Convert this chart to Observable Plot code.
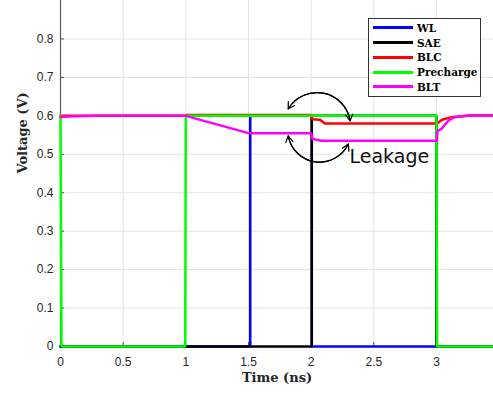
<!DOCTYPE html>
<html>
<head>
<meta charset="utf-8">
<script src="https://cdn.jsdelivr.net/npm/d3@7"></script>
<script src="https://cdn.jsdelivr.net/npm/@observablehq/plot@0.6"></script>
<style>
  body { margin: 0; background: white; }
  #wrap { position: relative; width: 493px; height: 394px; overflow: hidden; }
  #legend { position: absolute; left: 368px; top: 18px; width: 111px; height: 77px; border: 1px solid #333; background: white; }
  .lg-row { position: absolute; left: 0; height: 14px; width: 111px; }
  .lg-line { position: absolute; left: 4px; top: 5.5px; width: 40px; height: 3px; }
  .lg-text { position: absolute; left: 48px; top: 0; font-family: "DejaVu Serif", serif; font-weight: bold; font-size: 10.5px; line-height: 14px; color: #000; white-space: nowrap; }
</style>
</head>
<body>
<div id="wrap"><div id="chart"></div><div id="legend"></div></div>
<script>
// ---- data ----
const seriesNames = ["WL", "SAE", "BLC", "Precharge", "BLT"];
const seriesColors = ["#0000ff", "#000000", "#ff0000", "#00ff00", "#ff00ff"];

const tWL = [0, 1.514, 1.514, 2.005, 2.005, 3.455];
const vWL = [0, 0, 0.6, 0.6, 0, 0];

const tSAE = [0, 2.005, 2.005, 3.0, 3.0, 3.455];
const vSAE = [0, 0, 0.6, 0.6, 0, 0];

const tBLC = [0, 1.0, 1.001, 2.0, 2.01, 2.07, 2.11, 3.005, 3.045, 3.09, 3.14, 3.27, 3.455];
const vBLC = [0.6, 0.6, 0.602, 0.602, 0.591, 0.590, 0.580, 0.580, 0.590, 0.594, 0.597, 0.601, 0.601];

const tPre = [0, 0.008, 0.995, 1.0, 3.0, 3.005, 3.455];
const vPre = [0.6, 0, 0, 0.6, 0.6, 0, 0];

const tBLT = [0, 0.1, 0.3, 1.0, 1.5, 2.0, 2.01, 2.08, 3.004, 3.008, 3.04, 3.07, 3.1, 3.14, 3.2, 3.27, 3.455];
const vBLT = [0.597, 0.599, 0.6, 0.6, 0.555, 0.555, 0.540, 0.535, 0.535, 0.561, 0.566, 0.578, 0.589, 0.596, 0.599, 0.601, 0.601];

const xTicks = [0, 0.5, 1, 1.5, 2, 2.5, 3];
const yTicks = [0, 0.1, 0.2, 0.3, 0.4, 0.5, 0.6, 0.7, 0.8];

// annotation arrows (double-headed, curved)
const arrowT1 = [1.817, 1.817];
const arrowV1 = [0.618, 0.548];
const arrowT2 = [2.311, 2.297];
const arrowV2 = [0.587, 0.5265];
const arrowBend = [70, -72];

const noteText = ["Leakage"];
const noteT = [2.306];
const noteV = [0.492];

// ---- build ----
const tSeries = [tWL, tSAE, tBLC, tPre, tBLT];
const vSeries = [vWL, vSAE, vBLC, vPre, vBLT];
const lineData = tSeries.map((ts, i) => ts.map((t, j) => ({t, v: vSeries[i][j]})));

const arrowMarks = [];
arrowT1.forEach((_, i) => {
  const fwd = [{x1: arrowT1[i], y1: arrowV1[i], x2: arrowT2[i], y2: arrowV2[i]}];
  const rev = [{x1: arrowT2[i], y1: arrowV2[i], x2: arrowT1[i], y2: arrowV1[i]}];
  const opts = {x1: "x1", y1: "y1", x2: "x2", y2: "y2", stroke: "black", strokeWidth: 1.2, headLength: 9};
  arrowMarks.push(Plot.arrow(fwd, {...opts, bend: arrowBend[i]}));
  arrowMarks.push(Plot.arrow(rev, {...opts, bend: -arrowBend[i]}));
});

const fmt = d => String(d);

const chart = Plot.plot({
  width: 493,
  height: 394,
  marginLeft: 60,
  marginRight: 0,
  marginTop: 0,
  marginBottom: 48,
  x: {domain: [0, 3.455]},
  y: {domain: [0, 0.9]},
  style: {fontFamily: "'Liberation Sans', Arial, sans-serif", fontSize: "12px", color: "#262626", background: "white", overflow: "hidden"},
  marks: [
    Plot.gridX(xTicks.slice(1), {stroke: "#e3e3e3", strokeOpacity: 1}),
    Plot.gridY(yTicks.slice(1), {stroke: "#e3e3e3", strokeOpacity: 1}),
    Plot.axisX({ticks: xTicks, tickFormat: fmt, tickSize: -4, tickPadding: 15, label: null, stroke: "#4d4d4d"}),
    Plot.axisY({ticks: yTicks, tickFormat: fmt, tickSize: -4, tickPadding: 11, label: null, stroke: "#4d4d4d"}),
    Plot.ruleX([0], {stroke: "#595959", strokeWidth: 1.2}),
    Plot.ruleY([0], {stroke: "#595959", strokeWidth: 1}),
    ...lineData.map((d, i) => Plot.line(d, {x: "t", y: "v", stroke: seriesColors[i], strokeWidth: 2.5, strokeLinejoin: "miter"})),
    ...arrowMarks,
    Plot.text(noteText, {x: noteT, y: noteV, text: d => d, textAnchor: "start", fontSize: 19, fontFamily: "'DejaVu Sans', sans-serif", fill: "#111"}),
    Plot.text(["Time (ns)"], {frameAnchor: "bottom", dy: 35, text: d => d, fontFamily: "'DejaVu Serif', serif", fontWeight: "bold", fontSize: 13, fill: "#262626"}),
    Plot.text(["Voltage (V)"], {frameAnchor: "left", dx: -38, rotate: -90, text: d => d, fontFamily: "'DejaVu Serif', serif", fontWeight: "bold", fontSize: 13, fill: "#262626"})
  ]
});
document.getElementById("chart").appendChild(chart);

// legend
const legend = document.getElementById("legend");
seriesNames.forEach((name, i) => {
  const row = document.createElement("div");
  row.className = "lg-row";
  row.style.top = (1.7 + i * 14.8) + "px";
  const ln = document.createElement("div");
  ln.className = "lg-line";
  ln.style.background = seriesColors[i];
  const tx = document.createElement("div");
  tx.className = "lg-text";
  tx.textContent = name;
  row.appendChild(ln);
  row.appendChild(tx);
  legend.appendChild(row);
});
</script>
</body>
</html>
